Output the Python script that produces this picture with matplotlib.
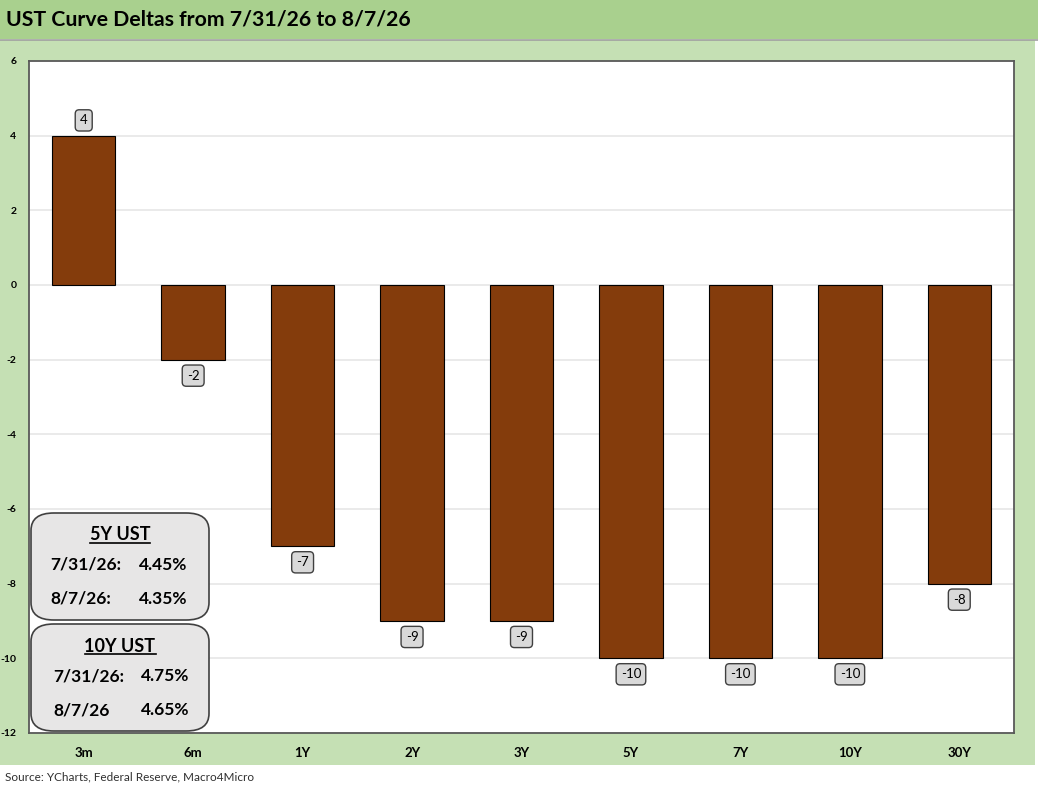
import matplotlib.pyplot as plt
from matplotlib.patches import Rectangle, FancyBboxPatch

plt.rcParams['font.family'] = ['Lato', 'DejaVu Sans']

tenors = ['3m', '6m', '1Y', '2Y', '3Y', '5Y', '7Y', '10Y', '30Y']
deltas = [4, -2, -7, -9, -9, -10, -10, -10, -8]

box_5y = ['5Y UST', ('7/31/26:', '4.45%'), ('8/7/26:', '4.35%')]
box_10y = ['10Y UST', ('7/31/26:', '4.75%'), ('8/7/26', '4.65%')]

W, H = 1038, 791
fig = plt.figure(figsize=(W / 100, H / 100), dpi=100)
fig.patch.set_facecolor('white')

# header band and panel background
fig.patches.append(Rectangle((0, 1 - 39 / H), 1, 39 / H, transform=fig.transFigure,
                             facecolor='#A9D08E', edgecolor='none', zorder=-5))
fig.patches.append(Rectangle((0, 1 - 765 / H), 1035 / W, (765 - 40) / H, transform=fig.transFigure,
                             facecolor='#C5E0B4', edgecolor='none', zorder=-5))
fig.lines.append(plt.Line2D([0, 1], [1 - 39.5 / H] * 2, transform=fig.transFigure,
                            color='#A0A0A0', lw=1.2, zorder=-4))
fig.text(6 / W, 1 - 20 / H, 'UST Curve Deltas from 7/31/26 to 8/7/26', fontsize=15.3,
         fontweight='bold', va='center', ha='left', color='black')
fig.text(5 / W, 1 - 777 / H, 'Source: YCharts, Federal Reserve, Macro4Micro', fontsize=8.5,
         va='center', ha='left', color='#303030')

left, right, top, bottom = 29, 1014, 61, 733
ax = fig.add_axes([left / W, 1 - bottom / H, (right - left) / W, (bottom - top) / H])
ax.set_facecolor('white')

x = range(len(tenors))
bars = ax.bar(x, deltas, width=0.58, color='#843C0C', edgecolor='black', linewidth=0.8, zorder=3)

ax.set_xlim(-0.5, len(tenors) - 0.5)
ax.set_ylim(-12, 6)
ax.set_yticks(range(-12, 7, 2))
ax.set_yticklabels([str(v) for v in range(-12, 7, 2)], fontsize=7.5, fontweight='bold')
ax.set_xticks(list(x))
ax.set_xticklabels(tenors, fontsize=9.5, fontweight='bold')
ax.tick_params(axis='both', length=0)
ax.tick_params(axis='y', pad=9)
ax.tick_params(axis='x', pad=10)
ax.grid(axis='y', color='#E6E6E6', lw=1.2, zorder=0)
for s in ax.spines.values():
    s.set_color('#595959')
    s.set_linewidth(1.3)

for bar, value in zip(bars, deltas):
    cx = bar.get_x() + bar.get_width() / 2
    off = 11 if value >= 0 else -11.5
    ax.annotate(f'{value}', (cx, value), xytext=(0, off), textcoords='offset points',
                ha='center', va='center', fontsize=9.5, color='black', zorder=5,
                bbox=dict(boxstyle='round,pad=0.35,rounding_size=0.3', fc='#D9D9D9',
                          ec='#404040', lw=1))


def info_box(y0, y1, lines, extra_dx=0):
    x0, x1 = 31, 209
    bx = FancyBboxPatch((x0 / W, 1 - y1 / H), (x1 - x0) / W, (y1 - y0) / H,
                        boxstyle='round,pad=0,rounding_size=0.022', transform=fig.transFigure,
                        facecolor='#E7E6E6', edgecolor='#404040', lw=1.2, zorder=10)
    fig.patches.append(bx)
    hy = y0 + 22
    t = fig.text((x0 + x1) / 2 / W, 1 - hy / H, lines[0], fontsize=13, fontweight='bold',
                 ha='center', va='center', zorder=11)
    for i, (d, v) in enumerate(lines[1:]):
        ry = y0 + 52 + i * 34
        fig.text((50 + extra_dx) / W, 1 - ry / H, d, fontsize=12.5, fontweight='bold',
                 ha='left', va='center', zorder=11)
        fig.text((139 + extra_dx / 2) / W, 1 - ry / H, v, fontsize=12.5, fontweight='bold',
                 ha='left', va='center', zorder=11)
    return t


t1 = info_box(513, 620, box_5y)
t2 = info_box(624, 731, box_10y, extra_dx=3)

fig.canvas.draw()
r = fig.canvas.get_renderer()
for t in (t1, t2):
    bb = t.get_window_extent(renderer=r).transformed(fig.transFigure.inverted())
    yline = bb.y0 + 0.001
    fig.lines.append(plt.Line2D([bb.x0, bb.x1], [yline, yline], transform=fig.transFigure,
                                color='black', lw=1.2, zorder=12))

plt.savefig('out.png', dpi=100)
